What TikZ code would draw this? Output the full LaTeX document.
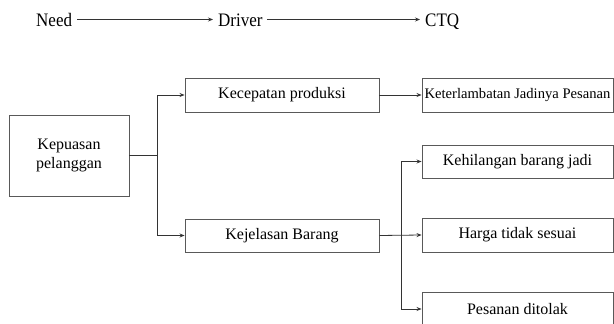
\documentclass[tikz,border=0pt]{standalone}
\usepackage{fontspec}
\setmainfont{Liberation Serif}
\usetikzlibrary{arrows.meta}
\begin{document}
\begin{tikzpicture}[x=1pt,y=-1pt,
  box/.style={draw=black!65,line width=0.9pt,inner sep=0pt,font=\fontsize{16}{19}\selectfont,align=center},
  hdr/.style={inner xsep=0pt,inner ysep=0pt,text height=13pt,text depth=0pt,anchor=base west,font=\fontsize{17}{20}\selectfont},
  conn/.style={draw=black!80,line width=0.8pt,-{Stealth[length=5pt,width=4pt]}},
  plain/.style={draw=black!80,line width=0.8pt}]
\useasboundingbox (0,0) rectangle (614,324);
% header
\node[hdr] (need) at (36,27) {\scalebox{1}[1.12]{Need}};
\node[hdr] (driver) at (218,27) {\scalebox{1}[1.12]{Driver}};
\node[hdr] (ctq) at (425,27) {\scalebox{1}[1.12]{CTQ}};
\draw[conn] ([xshift=5pt,yshift=1pt]need.east) -- ([xshift=-5pt,yshift=1pt]driver.west);
\draw[conn] ([xshift=4pt,yshift=1pt]driver.east) -- ([xshift=-5pt,yshift=1pt]ctq.west);
% boxes
\node[box,minimum width=120pt,minimum height=81pt] (kep) at (69,155.5) {Kepuasan\\pelanggan};
\node[box,minimum width=194pt,minimum height=34pt] (kec) at (282,95) {Kecepatan produksi};
\node[box,minimum width=194pt,minimum height=33pt] (kej) at (282,235.5) {Kejelasan Barang};
\node[box,minimum width=191pt,minimum height=34pt,font=\fontsize{14.6}{17}\selectfont] (ket) at (517.5,95) {Keterlambatan Jadinya Pesanan};
\node[box,minimum width=191pt,minimum height=33pt] (keh) at (517.5,161.5) {Kehilangan barang jadi};
\node[box,minimum width=191pt,minimum height=34pt] (har) at (517.5,235) {Harga tidak sesuai};
\node[box,minimum width=191pt,minimum height=34pt] (pes) at (517.5,309) {Pesanan ditolak};
% connectors
\coordinate (b1) at (157,155.5);
\draw[plain] (kep.east) -- (b1);
\draw[conn] (b1) |- (kec.west);
\draw[conn] (b1) |- (kej.west);
\draw[conn] (kec.east) -- (ket.west);
\draw[conn] (kej.east) -- (har.west);
\coordinate (b2) at (401,235.5);
\draw[conn] (b2) |- (keh.west);
\draw[conn] (b2) |- (pes.west);
\end{tikzpicture}
\end{document}
